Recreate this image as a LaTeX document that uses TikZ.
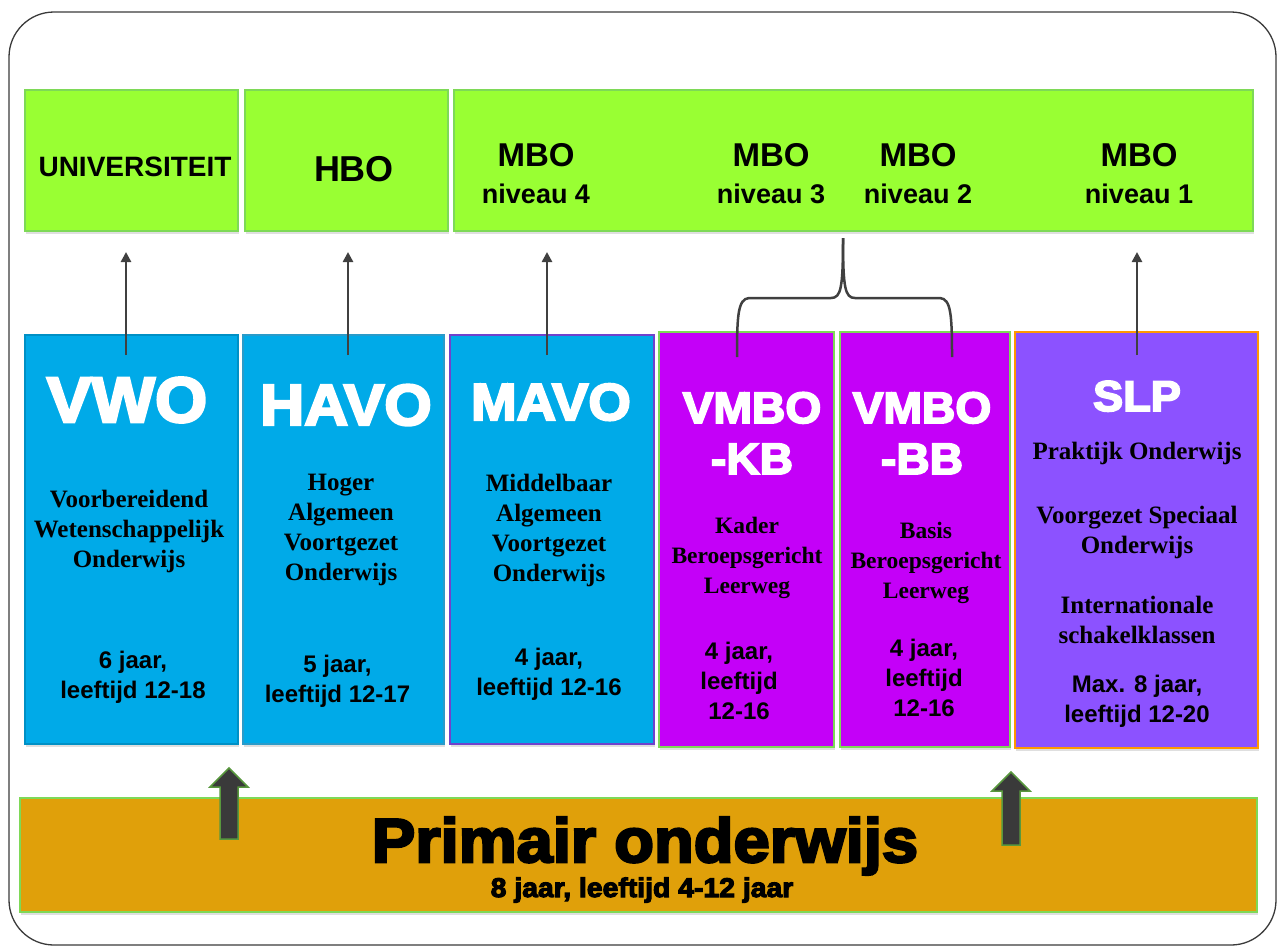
\documentclass[tikz,border=0pt]{standalone}
\usepackage{fontspec}
\setmainfont{Liberation Serif}
\setsansfont{Liberation Sans}
\newfontfamily\heavysans{Liberation Sans}[UprightFont=* Bold, FakeBold=4, FakeStretch=1.05]
\usetikzlibrary{positioning,calc,shadows,arrows.meta}

\definecolor{vogreen}{HTML}{99FF33}
\definecolor{greenedge}{HTML}{7ED957}
\definecolor{voblue}{HTML}{00AAE8}
\definecolor{vmbopink}{HTML}{C400F8}
\definecolor{slppurple}{HTML}{8C52FF}
\definecolor{poorange}{HTML}{E0A00A}
\definecolor{linkgray}{HTML}{404040}
\definecolor{framegray}{HTML}{3A3A3A}

\begin{document}
\begin{tikzpicture}[x=1pt,y=-1pt,>={Triangle[length=10pt,width=10pt]},
  topbox/.style={draw=greenedge, line width=1.5pt, fill=vogreen, outer sep=0pt,
    minimum height=141pt, drop shadow={shadow xshift=1pt, shadow yshift=-3pt, opacity=.25}},
  schoolbox/.style={line width=2pt, outer sep=0pt, minimum height=409pt,
    drop shadow={shadow xshift=1pt, shadow yshift=-3pt, opacity=.25}},
  toplabel/.style={font=\sffamily\bfseries, anchor=base, inner sep=0pt},
  mbolabel/.style={font=\sffamily\bfseries\fontsize{27}{37}\selectfont, align=center, anchor=base, inner sep=0pt},
  schoolname/.style={text=white, align=center, anchor=base, inner sep=0pt},
  desc/.style={font=\bfseries\fontsize{25}{30}\selectfont, align=center, anchor=base, inner sep=0pt},
  years/.style={font=\sffamily\bfseries\fontsize{24}{30}\selectfont, align=center, anchor=base, inner sep=0pt},
  uparrow/.style={->, draw=linkgray, line width=2.5pt},
  bracelink/.style={draw=linkgray, line width=2.5pt},
  blockarrow/.style={fill=framegray, draw=greenedge!70!black, line width=1.5pt}]

\useasboundingbox (0,0) rectangle (1281,946);
\draw[framegray, line width=1.3pt, rounded corners=45pt] (9,12) rectangle (1276,945);

% vervolgonderwijs
\node[topbox, minimum width=213pt] (uni) at (131.5,160.5) {};
\node[topbox, minimum width=203pt, right=7pt of uni] (hbo) {};
\node[topbox, minimum width=799pt, right=6pt of hbo] (mbo) {};

\node[toplabel, font=\sffamily\bfseries\fontsize{28}{28}\selectfont] (unilabel) at ($(uni.north)+(3.5,86)$) {UNIVERSITEIT};
\node[toplabel, font=\sffamily\bfseries\fontsize{36}{36}\selectfont] (hbolabel) at ($(hbo.north)+(7.5,91)$) {HBO};
\node[mbolabel] (mbo4) at ($(mbo.north west)+(82,113)$) {{\fontsize{33}{37}\selectfont MBO}\\niveau 4};
\node[mbolabel] (mbo3) at ($(mbo.north west)+(317,113)$) {{\fontsize{33}{37}\selectfont MBO}\\niveau 3};
\node[mbolabel] (mbo2) at ($(mbo.north west)+(464,113)$) {{\fontsize{33}{37}\selectfont MBO}\\niveau 2};
\node[mbolabel] (mbo1) at ($(mbo.north west)+(685,113)$) {{\fontsize{33}{37}\selectfont MBO}\\niveau 1};

% voortgezet onderwijs
\node[schoolbox, fill=voblue, draw=voblue!85!black, minimum width=213pt] (vwo) at (131.5,539.5) {};
\node[schoolbox, fill=voblue, draw=cyan!60!teal, minimum width=201pt, right=5pt of vwo] (havo) {};
\node[schoolbox, fill=voblue, draw=slppurple!80!black, minimum width=204pt, right=6pt of havo] (mavo) {};
\node[schoolbox, fill=vmbopink, draw=greenedge, minimum width=175pt, minimum height=415pt, right=5pt of mavo] (kb) {};
\node[schoolbox, fill=vmbopink, draw=greenedge, minimum width=170pt, minimum height=415pt, right=6pt of kb] (bb) {};
\node[schoolbox, fill=slppurple, draw=orange!80!yellow, minimum width=243pt, minimum height=416pt, right=5pt of bb] (slp) {};

\node[schoolname, font=\heavysans\fontsize{64}{64}\selectfont] (vwoname) at ($(vwo.north)+(-4.5,87)$) {VWO};
\node[desc] (vwodesc) at ($(vwo.north)+(-2.5,232)$) {Voorbereidend\\Wetenschappelijk\\Onderwijs};
\node[years] (vwoyears) at ($(vwo.north)+(1.5,363)$) {6 jaar,\\leeftijd 12-18};

\node[schoolname, font=\heavysans\fontsize{58}{58}\selectfont] (havoname) at ($(havo.north)+(2.5,90)$) {HAVO};
\node[desc] (havodesc) at ($(havo.north)+(-2.5,245)$) {Hoger\\Algemeen\\Voortgezet\\Onderwijs};
\node[years] (havoyears) at ($(havo.north)+(-6,367)$) {5 jaar,\\leeftijd 12-17};

\node[schoolname, font=\heavysans\fontsize{52}{52}\selectfont] (mavoname) at ($(mavo.north)+(-1,85)$) {MAVO};
\node[desc] (mavodesc) at ($(mavo.north)+(-3,246)$) {Middelbaar\\Algemeen\\Voortgezet\\Onderwijs};
\node[years] (mavoyears) at ($(mavo.north)+(-3,360)$) {4 jaar,\\leeftijd 12-16};

\node[schoolname, font=\heavysans\fontsize{44}{51}\selectfont] (kbname) at ($(kb.north)+(5.5,142)$) {VMBO\\-KB};
\node[desc, font=\bfseries\fontsize{23.5}{30}\selectfont] (kbdesc) at ($(kb.north)+(0.5,261)$) {Kader\\Beroepsgericht\\Leerweg};
\node[years] (kbyears) at ($(kb.north)+(-7.5,387)$) {4 jaar,\\leeftijd\\12-16};

\node[schoolname, font=\heavysans\fontsize{44}{51}\selectfont] (bbname) at ($(bb.north)+(-3,142)$) {VMBO\\-BB};
\node[desc, font=\bfseries\fontsize{23.5}{30}\selectfont] (bbdesc) at ($(bb.north)+(1,266)$) {Basis\\Beroepsgericht\\Leerweg};
\node[years] (bbyears) at ($(bb.north)+(-1,384)$) {4 jaar,\\leeftijd\\12-16};

\node[schoolname, font=\heavysans\fontsize{43}{43}\selectfont] (slpname) at ($(slp.north)+(0.5,79.5)$) {SLP};
\node[desc] (slpdesc) at ($(slp.north)+(0.5,311.5)$) {Praktijk Onderwijs\\[34pt]Voorgezet Speciaal\\Onderwijs\\[30pt]Internationale\\schakelklassen};
\node[years] (slpyears) at ($(slp.north)+(0.5,390.5)$) {Max. 8 jaar,\\leeftijd 12-20};

% primair onderwijs
\node[draw=greenedge, line width=1.5pt, fill=poorange, outer sep=0pt, minimum width=1237pt, minimum height=114pt,
  drop shadow={shadow xshift=1pt, shadow yshift=-3pt, opacity=.25}] (prim) at (638.5,855) {};
\node[anchor=base, inner sep=0pt, font=\heavysans\fontsize{62}{62}\selectfont] (primname) at ($(prim.center)+(6.5,7)$) {Primair onderwijs};
\node[anchor=base, inner sep=0pt, font=\heavysans\fontsize{27}{27}\selectfont] (primyears) at ($(prim.center)+(3.5,42)$) {8 jaar, leeftijd 4-12 jaar};

% doorstroom
\draw[uparrow] ($(vwo.north)+(-5.5,20)$) -- ($(uni.south)+(-5.5,21)$);
\draw[uparrow] ($(havo.north)+(4.5,20)$) -- ($(hbo.south)+(1.5,21)$);
\draw[uparrow] ($(mavo.north)+(-5,20)$) -- ($(mavo.north |- mbo.south)+(-5,21)$);
\draw[uparrow] ($(slp.north)+(0.5,23.5)$) -- ($(slp.north |- mbo.south)+(0.5,21)$);

\coordinate (brtop) at ($(mbo.south)+(-10.5,7)$);
\coordinate (brmid) at ($(brtop)+(0,60)$);
\coordinate (brleft) at ($(kb.north)+(-9.5,25)$);
\coordinate (brright) at ($(bb.north)+(27,25)$);
\draw[bracelink] (brtop) .. controls ($(brtop)+(0,50)$) and ($(brmid)+(-2,0)$) .. ($(brmid)+(-12,0)$)
  -- ($(brleft |- brmid)+(12,0)$) .. controls ($(brleft |- brmid)+(1,1)$) and ($(brleft)+(0,-42)$) .. (brleft);
\draw[bracelink] (brtop) .. controls ($(brtop)+(0,50)$) and ($(brmid)+(2,0)$) .. ($(brmid)+(12,0)$)
  -- ($(brright |- brmid)+(-12,0)$) .. controls ($(brright |- brmid)+(-1,1)$) and ($(brright)+(0,-42)$) .. (brright);

\coordinate (lift1) at ($(prim.north west)+(209,-30)$);
\coordinate (lift2) at ($(prim.north west)+(991,-26)$);
\draw[blockarrow] (lift1) -- ++(19,19) -- ++(-10,0) -- ++(0,52) -- ++(-18,0) -- ++(0,-52) -- ++(-10,0) -- cycle;
\draw[blockarrow] (lift2) -- ++(19,19) -- ++(-10,0) -- ++(0,54) -- ++(-18,0) -- ++(0,-54) -- ++(-10,0) -- cycle;
\end{tikzpicture}
\end{document}
